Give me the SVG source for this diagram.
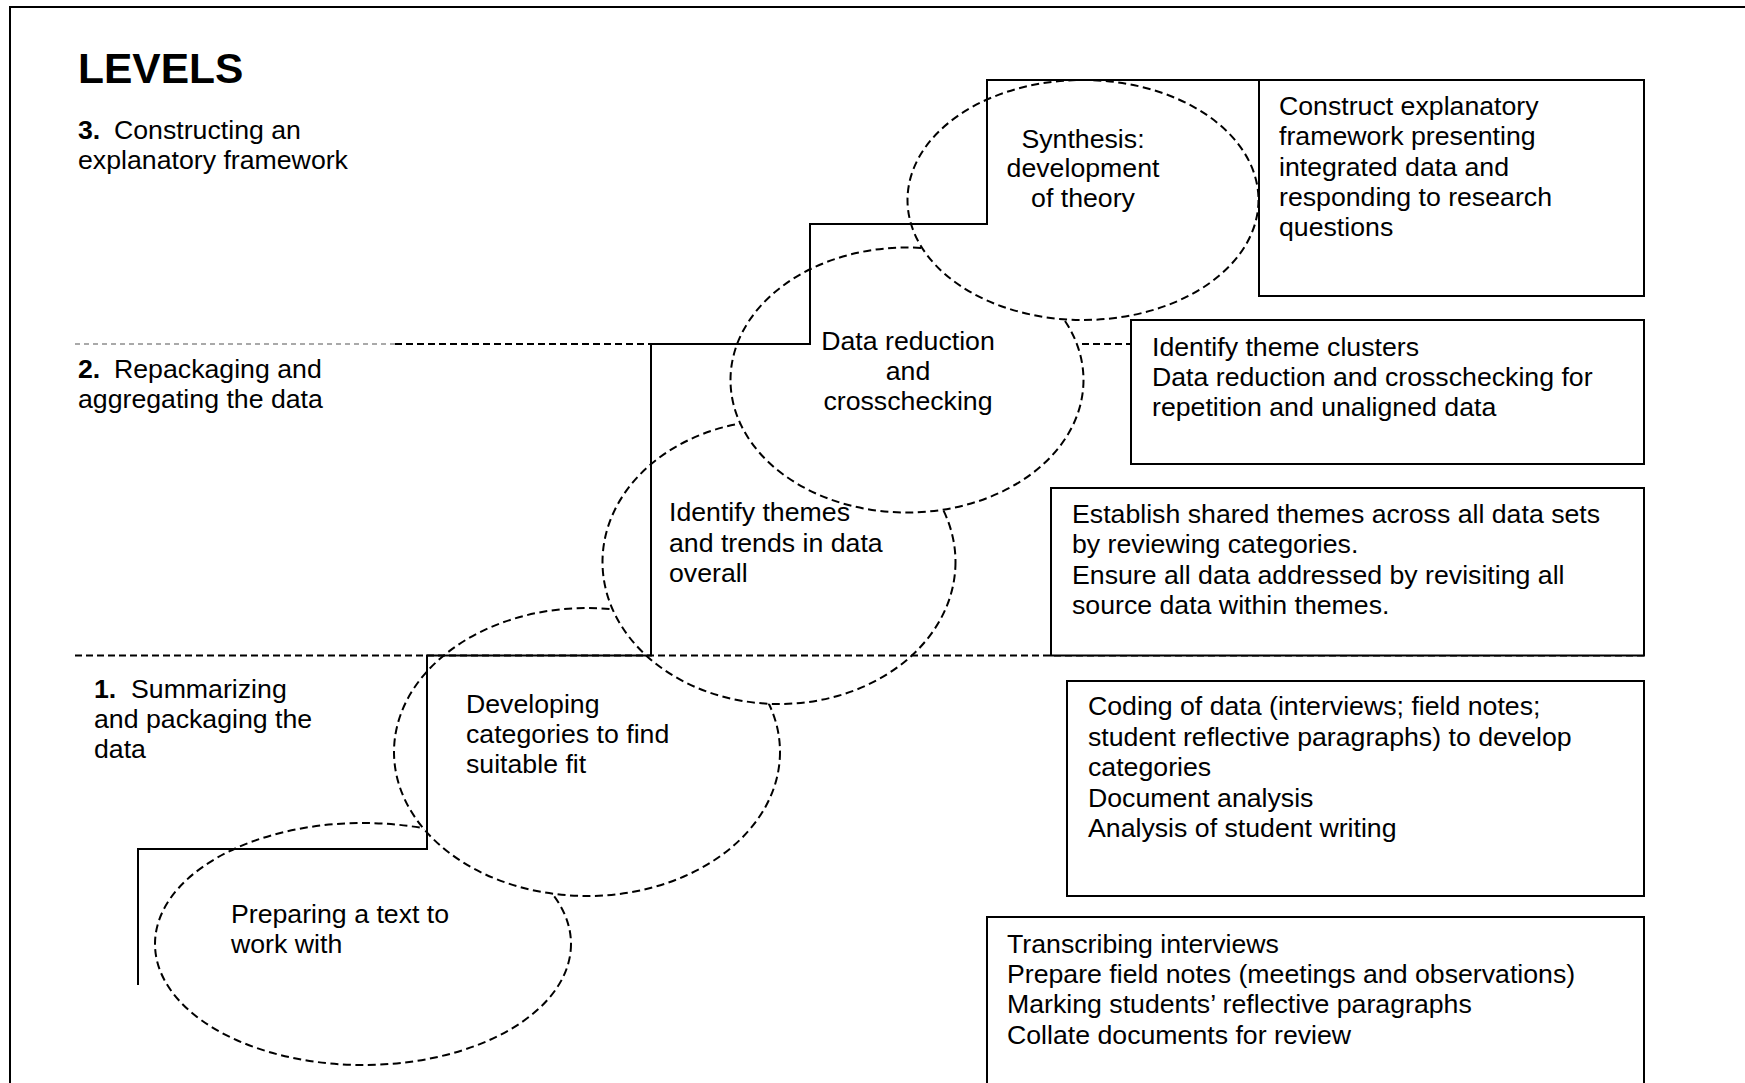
<svg xmlns="http://www.w3.org/2000/svg" width="1745" height="1083" viewBox="0 0 1745 1083">
<style>
text{font-family:"Liberation Sans",Arial,sans-serif;font-size:26.7px;fill:#000}
.ell{fill:#fff;stroke:#000;stroke-width:2;stroke-dasharray:8 4.5}
.step{fill:none;stroke:#000;stroke-width:2}
.box{fill:#fff;stroke:#000;stroke-width:2}
.dash{fill:none;stroke:#000;stroke-width:2;stroke-dasharray:7 4}
.dashl{fill:none;stroke:#555;stroke-width:1.2;stroke-dasharray:5 4}
.c{text-anchor:middle}
</style>
<rect width="1745" height="1083" fill="#fff"/>
<path d="M10,1090 V7 H1750" fill="none" stroke="#000" stroke-width="2"/>
<g id="levels">
<text x="78" y="83" style="font-size:42.5px;font-weight:bold">LEVELS</text>
<text x="78" y="139"><tspan font-weight="bold">3.</tspan><tspan x="114">Constructing an</tspan></text>
<text x="78" y="169">explanatory framework</text>
<text x="78" y="378"><tspan font-weight="bold">2.</tspan><tspan x="114">Repackaging and</tspan></text>
<text x="78" y="408">aggregating the data</text>
<text x="94" y="698"><tspan font-weight="bold">1.</tspan><tspan x="131">Summarizing</tspan></text>
<text x="94" y="728">and packaging the</text>
<text x="94" y="758">data</text>
</g>
<g id="ellipses">
<g id="n-preparing"><ellipse class="ell" cx="363" cy="944" rx="208" ry="121"/></g>
<g id="n-developing"><ellipse class="ell" cx="587" cy="752" rx="193" ry="144"/></g>
<g id="n-identify"><ellipse class="ell" cx="779" cy="562" rx="176.5" ry="142"/></g>
<g id="n-reduction"><ellipse class="ell" cx="907" cy="380" rx="176.5" ry="132.5"/></g>
<g id="n-synthesis"><ellipse class="ell" cx="1083" cy="200" rx="175.5" ry="120"/></g>
</g>
<g id="connectors">
<path class="step" d="M138,985 V849 H427 V655.5 H651 V344 H810 V224 H987 V80 H1259"/>
<path class="dashl" d="M75,344 H395"/>
<path class="dash" d="M395,344 H731"/>
<path class="dash" d="M1082,344 H1131"/>
<path class="dash" d="M75,655.5 H1644"/>
</g>
<g id="ellipse-labels">
<text class="c" x="1083" y="148">Synthesis:</text>
<text class="c" x="1083" y="177">development</text>
<text class="c" x="1083" y="207">of theory</text>
<text class="c" x="908" y="350">Data reduction</text>
<text class="c" x="908" y="380">and</text>
<text class="c" x="908" y="410">crosschecking</text>
<text x="669" y="521">Identify themes</text>
<text x="669" y="552">and trends in data</text>
<text x="669" y="582">overall</text>
<text x="466" y="713">Developing</text>
<text x="466" y="743">categories to find</text>
<text x="466" y="773">suitable fit</text>
<text x="231" y="923">Preparing a text to</text>
<text x="231" y="953">work with</text>
</g>
<g id="box-a">
<rect class="box" x="1259" y="80" width="385" height="216"/>
<text x="1279" y="115">Construct explanatory</text>
<text x="1279" y="145">framework presenting</text>
<text x="1279" y="176">integrated data and</text>
<text x="1279" y="206">responding to research</text>
<text x="1279" y="236">questions</text>
</g>
<g id="box-b">
<rect class="box" x="1131" y="320" width="513" height="144"/>
<text x="1152" y="356">Identify theme clusters</text>
<text x="1152" y="386">Data reduction and crosschecking for</text>
<text x="1152" y="416">repetition and unaligned data</text>
</g>
<g id="box-c">
<rect class="box" x="1051" y="488" width="593" height="167.5"/>
<text x="1072" y="523">Establish shared themes across all data sets</text>
<text x="1072" y="553">by reviewing categories.</text>
<text x="1072" y="584">Ensure all data addressed by revisiting all</text>
<text x="1072" y="614">source data within themes.</text>
</g>
<g id="box-d">
<rect class="box" x="1067" y="681" width="577" height="215"/>
<text x="1088" y="715">Coding of data (interviews; field notes;</text>
<text x="1088" y="746">student reflective paragraphs) to develop</text>
<text x="1088" y="776">categories</text>
<text x="1088" y="807">Document analysis</text>
<text x="1088" y="837">Analysis of student writing</text>
</g>
<g id="box-e">
<rect class="box" x="987" y="917" width="657" height="200"/>
<text x="1007" y="953">Transcribing interviews</text>
<text x="1007" y="983">Prepare field notes (meetings and observations)</text>
<text x="1007" y="1013">Marking students’ reflective paragraphs</text>
<text x="1007" y="1044">Collate documents for review</text>
</g>
</svg>
